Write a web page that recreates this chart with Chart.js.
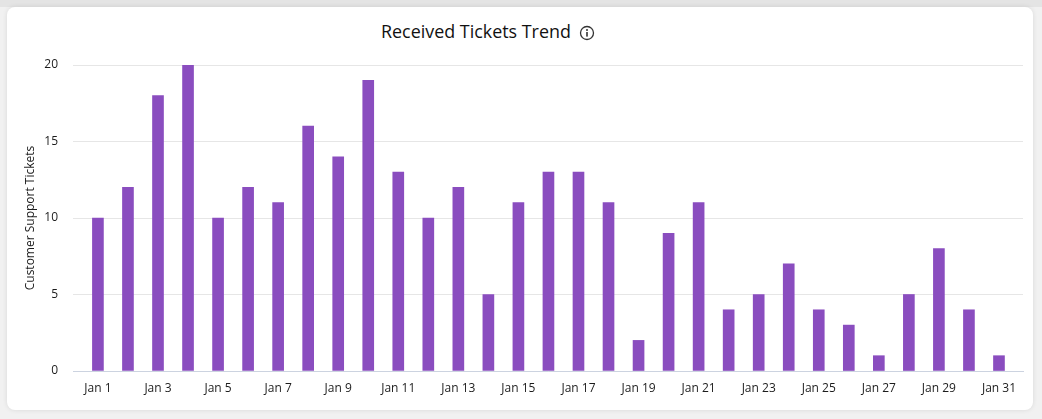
<!DOCTYPE html>
<html>
<head>
<meta charset="utf-8">
<script src="https://cdn.jsdelivr.net/npm/chart.js@4"></script>
<style>
  html, body { margin: 0; padding: 0; width: 1042px; height: 419px; overflow: hidden; background: #f1f1f1; font-family: "Open Sans", sans-serif; }
  .topband { position: absolute; left: 0; top: 0; width: 1042px; height: 7px; background: #e4e4e4; }
  .card { position: absolute; left: 7px; top: 7px; width: 1026px; height: 403px; background: #fff; border-radius: 8px; box-shadow: 0 0 5px rgba(0,0,0,0.10); }
  .title { position: absolute; left: 381px; top: 19px; font-size: 17.9px; line-height: 25px; color: #111; white-space: nowrap; }
  .icon { position: absolute; left: 579px; top: 25px; }
  canvas { position: absolute; left: 0; top: 0; }
</style>
</head>
<body>
<div class="topband"></div>
<div class="card"></div>
<div class="title">Received Tickets Trend</div>
<svg class="icon" width="16" height="16" viewBox="0 0 16 16">
  <circle cx="8" cy="8" r="6.5" fill="none" stroke="#333" stroke-width="1.3"/>
  <rect x="7.2" y="7" width="1.6" height="4.6" fill="#333"/>
  <circle cx="8" cy="5" r="1" fill="#333"/>
</svg>
<canvas id="ticketsChart" width="1042" height="419"></canvas>
<script>
const categories = ["Jan 1","Jan 2","Jan 3","Jan 4","Jan 5","Jan 6","Jan 7","Jan 8","Jan 9","Jan 10","Jan 11",
  "Jan 12","Jan 13","Jan 14","Jan 15","Jan 16","Jan 17","Jan 18","Jan 19","Jan 20","Jan 21","Jan 22",
  "Jan 23","Jan 24","Jan 25","Jan 26","Jan 27","Jan 28","Jan 29","Jan 30","Jan 31"];
const tickets = [10,12,18,20,10,12,11,16,14,19,13,10,12,5,11,13,13,11,2,9,11,4,5,7,4,3,1,5,8,4,1];
const yTicks = [0,5,10,15,20];

const textColor = "#1c1c1c";
const tickFont = { family: "'Open Sans', sans-serif", size: 12 };

// linear x axis so the bars can sit in from the ends of the gridlines
const chart = new Chart(document.getElementById("ticketsChart").getContext("2d"), {
  type: "bar",
  data: {
    datasets: [{
      label: "Customer Support Tickets",
      data: tickets.map((v, i) => ({ x: i + 1, y: v })),
      backgroundColor: "#8a4dbf",
      barThickness: 11
    }]
  },
  options: {
    responsive: false,
    animation: false,
    layout: { padding: { top: 65, right: 19, bottom: 0, left: 0 } },
    plugins: { legend: { display: false }, tooltip: { enabled: false } },
    scales: {
      x: {
        type: "linear",
        offset: false,
        min: 0.17,
        max: 31.8,
        afterBuildTicks: axis => {
          axis.ticks = categories.map((c, i) => ({ value: i + 1 })).filter(t => t.value % 2 === 1);
        },
        afterFit: axis => { axis.height = 48; },
        grid: { display: false, drawTicks: false, offset: false },
        border: { color: "#ccd3e0", width: 1 },
        ticks: {
          color: textColor,
          font: tickFont,
          padding: 10,
          maxRotation: 0,
          autoSkip: false,
          callback: v => categories[v - 1]
        }
      },
      y: {
        min: 0,
        max: 20,
        afterBuildTicks: axis => { axis.ticks = yTicks.map(v => ({ value: v })); },
        afterFit: axis => { axis.width = 73; },
        grid: { color: "#e6e6e6", drawTicks: false },
        border: { display: false },
        title: {
          display: true,
          text: "Customer Support Tickets",
          color: textColor,
          font: { family: "'Open Sans', sans-serif", size: 12 },
          padding: { top: 23, bottom: 0 }
        },
        ticks: { color: textColor, font: tickFont, padding: 15 }
      }
    }
  }
});
</script>
</body>
</html>
